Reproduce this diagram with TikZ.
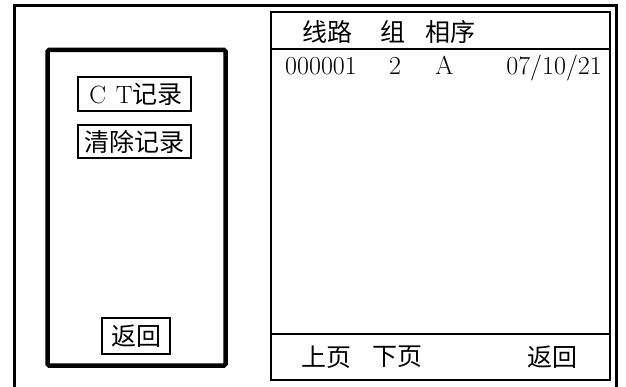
\documentclass[tikz,border=0pt]{standalone}
\usepackage{fontspec}
\newfontfamily\cjk{Noto Sans CJK SC}
\begin{document}
\begin{tikzpicture}[x=1pt,y=-1pt,
  frame/.style={line width=3pt},
  leftpanel/.style={draw,line width=4.5pt,rounded corners=1.5pt},
  listpanel/.style={draw,line width=1.4pt},
  btn/.style={draw,line width=1.3pt,inner sep=0pt,font=\cjk\fontsize{25}{25}\selectfont},
  cjktxt/.style={inner sep=0pt,font=\cjk\fontsize{25}{25}\selectfont},
  lat/.style={inner sep=0pt,font=\fontsize{26}{26}\selectfont}]
\useasboundingbox (0,0) rectangle (626,387);
\fill[white] (0,0) rectangle (626,387);
% outer frame (open at bottom)
\draw[frame] (14.5,387) -- (14.5,5.5) -- (616.5,5.5) -- (616.5,387);
% left menu panel
\draw[leftpanel] (47.5,50) rectangle (225.5,365.5);
\node[btn,minimum width=113pt,minimum height=34pt] (ct) at (134.5,94)
  {\hspace{3pt}{\rmfamily\fontsize{25}{25}\selectfont C\hspace{10pt}T}记录};
\node[btn,minimum width=113pt,minimum height=33pt] (clr) at (134.5,141.5) {清除记录};
\node[btn,minimum width=68pt,minimum height=36pt] (ret) at (136,336) {返回};
% right list panel
\draw[listpanel] (271,12) rectangle (610,380);
\draw[listpanel] (271,49) -- (610,49);
\draw[listpanel] (271,334) -- (610,334);
% header
\node[cjktxt] (h1) at (327,31.5) {线路};
\node[cjktxt] (h2) at (392.5,31.5) {组};
\node[cjktxt] (h3) at (450.5,31.5) {相序};
% data row
\node[lat,anchor=base west] (d1) at (285,75) {000001};
\node[lat,anchor=base] (d2) at (395,75) {2};
\node[lat,anchor=base] (d3) at (444.5,75) {A};
\node[lat,anchor=base east] (d4) at (602,75) {07/10/21};
% footer
\node[cjktxt] (f1) at (326,357) {上页};
\node[cjktxt] (f2) at (397.5,357) {下页};
\node[cjktxt] (f3) at (552,357) {返回};
\end{tikzpicture}
\end{document}
